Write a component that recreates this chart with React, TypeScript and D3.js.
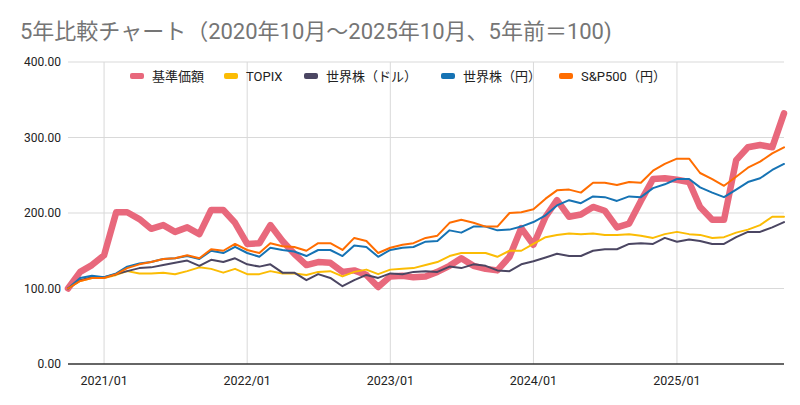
import * as d3 from 'd3';
import React from 'react';

// monthly points, 2020/10 .. 2025/10 (5 years ago = 100)
const months = d3.timeMonth.range(new Date(2020, 9, 1), new Date(2025, 10, 1));

const kijun = [
  100, 122, 131, 144, 201, 201, 192, 179, 184, 175, 181, 172, 204, 204, 187, 159,
  160, 184, 163, 146, 131, 135, 134, 122, 124, 118, 102, 116, 117, 115, 116, 122,
  130, 140, 130, 126, 124, 142, 180, 158, 195, 217, 195, 198, 208, 203, 181, 186,
  216, 245, 246, 244, 241, 208, 191, 191, 270, 287, 290, 287, 332,
];
const topix = [
  100, 110, 114, 114, 118, 123, 120, 120, 121, 119, 123, 128, 126, 121, 126, 119,
  119, 123, 120, 120, 118, 122, 123, 116, 122, 125, 119, 125, 126, 127, 131, 135,
  143, 147, 147, 147, 142, 150, 150, 159, 168, 171, 173, 172, 173, 171, 171, 172,
  170, 167, 172, 175, 172, 171, 167, 168, 174, 178, 184, 195, 195,
];
const worldUsd = [
  100, 111, 115, 115, 119, 123, 127, 128, 131, 134, 137, 130, 138, 135, 140, 132,
  129, 132, 121, 121, 111, 119, 114, 103, 111, 118, 114, 120, 119, 122, 123, 122,
  129, 127, 132, 130, 124, 123, 132, 136, 141, 146, 143, 143, 150, 152, 152, 159,
  160, 159, 167, 162, 165, 163, 159, 159, 168, 175, 175, 181, 188,
];
const worldJpy = [
  100, 114, 117, 115, 120, 129, 133, 135, 139, 140, 143, 139, 150, 147, 155, 147,
  142, 154, 151, 149, 143, 151, 151, 143, 157, 155, 142, 151, 154, 155, 162, 163,
  177, 174, 182, 182, 177, 178, 182, 188, 197, 210, 217, 213, 222, 221, 216, 222,
  221, 233, 238, 245, 245, 234, 227, 221, 231, 241, 246, 257, 265,
];
const sp500Jpy = [
  100, 110, 114, 114, 119, 127, 132, 135, 139, 140, 144, 140, 152, 150, 159, 151,
  147, 160, 156, 155, 150, 160, 160, 151, 167, 163, 147, 154, 158, 160, 167, 170,
  187, 191, 187, 182, 182, 200, 201, 205, 219, 230, 231, 227, 240, 240, 237, 241,
  240, 256, 265, 272, 272, 253, 245, 236, 248, 260, 268, 279, 287,
];

const seriesNames = ['基準価額', 'TOPIX', '世界株（ドル）', '世界株（円）', 'S&P500（円）'];
const seriesValues = [kijun, topix, worldUsd, worldJpy, sp500Jpy];
const seriesColors = ['#e8687c', '#fbbc04', '#4b4662', '#1673b4', '#ff6d01'];
const seriesWidths = [6.5, 2, 2, 2, 2];

const yTicks = [0, 100, 200, 300, 400];
const xTicks = [2021, 2022, 2023, 2024, 2025].map((y) => new Date(y, 0, 1));

const TITLE = '5年比較チャート（2020年10月～2025年10月、5年前＝100)';

const W = 800;
const H = 405;
const M = { left: 68, right: 16, top: 62, bottom: 41 };
const legendX = [130, 224, 304, 441, 559];
const FONT = "Roboto, 'Noto Sans CJK JP', sans-serif";

export default function App() {
  const x = d3
    .scaleTime()
    .domain([months[0], months[months.length - 1]])
    .range([M.left, W - M.right]);
  const y = d3.scaleLinear().domain([0, 400]).range([H - M.bottom, M.top]);

  const line = d3
    .line<number>()
    .x((_, i) => x(months[i]))
    .y((d) => y(d));

  const fmt = d3.format('.2f');
  const fmtX = d3.timeFormat('%Y/%m');

  return (
    <svg
      width={W}
      height={H}
      style={{ position: 'absolute', left: 0, top: 0, background: '#fff' }}
      fontFamily={FONT}
    >
      <text x={20} y={39} fontSize={22} fill="#757575">
        {TITLE}
      </text>

      {yTicks.map((t) => (
        <g key={t}>
          {t > 0 && (
            <line x1={M.left} x2={W - M.right} y1={y(t)} y2={y(t)} stroke="#d9d9d9" strokeWidth={1} />
          )}
          <text x={61} y={y(t) + 4} textAnchor="end" fontSize={12} fill="#222">
            {fmt(t)}
          </text>
        </g>
      ))}

      {xTicks.map((t) => (
        <g key={+t}>
          <line x1={x(t)} x2={x(t)} y1={M.top} y2={H - M.bottom} stroke="#d9d9d9" strokeWidth={1} />
          <text x={x(t)} y={385} textAnchor="middle" fontSize={12.5} fill="#222">
            {fmtX(t)}
          </text>
        </g>
      ))}

      {seriesValues.map((vals, i) => (
        <path
          key={seriesNames[i]}
          d={line(vals) ?? ''}
          fill="none"
          stroke={seriesColors[i]}
          strokeWidth={seriesWidths[i]}
          strokeLinejoin="round"
          strokeLinecap="round"
        />
      ))}

      <line
        x1={M.left}
        x2={W - M.right}
        y1={y(0)}
        y2={y(0)}
        stroke="#333"
        strokeWidth={1.5}
      />

      {seriesNames.map((name, i) => (
        <g key={name} transform={`translate(${legendX[i]},0)`}>
          <rect x={0} y={73} width={14} height={6} rx={2} fill={seriesColors[i]} />
          <text x={22} y={81} fontSize={13} fill="#222">
            {name}
          </text>
        </g>
      ))}
    </svg>
  );
}
